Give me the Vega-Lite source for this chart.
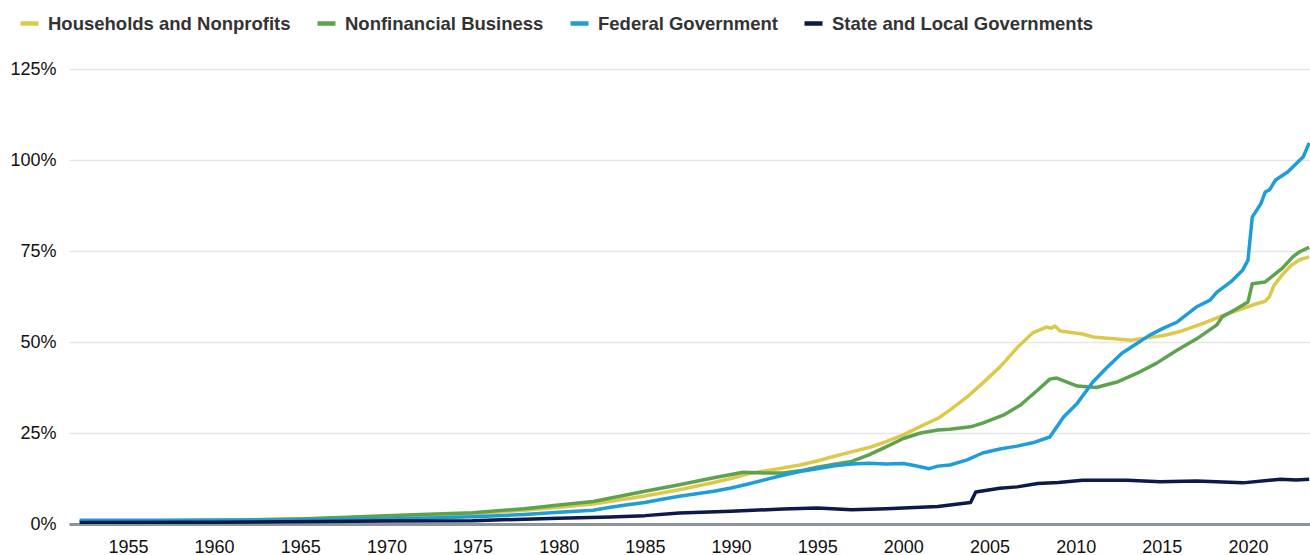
{
  "$schema": "https://vega.github.io/schema/vega-lite/v6.json",
  "width": 1241,
  "height": 455,
  "autosize": {"type": "none"},
  "padding": {"left": 69, "top": 69, "right": 0, "bottom": 31},
  "background": "white",
  "config": {
    "view": {"stroke": null},
    "font": "Liberation Sans"
  },
  "data": {
    "values": [
      {"s": "Households and Nonprofits", "t": 1952.2, "v": 0.6},
      {"s": "Households and Nonprofits", "t": 1955, "v": 0.8},
      {"s": "Households and Nonprofits", "t": 1960, "v": 1.0},
      {"s": "Households and Nonprofits", "t": 1965, "v": 1.4},
      {"s": "Households and Nonprofits", "t": 1968, "v": 1.7},
      {"s": "Households and Nonprofits", "t": 1970, "v": 2.1},
      {"s": "Households and Nonprofits", "t": 1972, "v": 2.4},
      {"s": "Households and Nonprofits", "t": 1975, "v": 2.8},
      {"s": "Households and Nonprofits", "t": 1978, "v": 3.8},
      {"s": "Households and Nonprofits", "t": 1980, "v": 4.6},
      {"s": "Households and Nonprofits", "t": 1982, "v": 5.5},
      {"s": "Households and Nonprofits", "t": 1985, "v": 7.7},
      {"s": "Households and Nonprofits", "t": 1987, "v": 9.4},
      {"s": "Households and Nonprofits", "t": 1989, "v": 11.4},
      {"s": "Households and Nonprofits", "t": 1990, "v": 12.5},
      {"s": "Households and Nonprofits", "t": 1991, "v": 13.8},
      {"s": "Households and Nonprofits", "t": 1992, "v": 14.6},
      {"s": "Households and Nonprofits", "t": 1993, "v": 15.4},
      {"s": "Households and Nonprofits", "t": 1994, "v": 16.2},
      {"s": "Households and Nonprofits", "t": 1995, "v": 17.3},
      {"s": "Households and Nonprofits", "t": 1996, "v": 18.6},
      {"s": "Households and Nonprofits", "t": 1997, "v": 19.8},
      {"s": "Households and Nonprofits", "t": 1998, "v": 21.0},
      {"s": "Households and Nonprofits", "t": 1999, "v": 22.6},
      {"s": "Households and Nonprofits", "t": 2000, "v": 24.5},
      {"s": "Households and Nonprofits", "t": 2001, "v": 26.8},
      {"s": "Households and Nonprofits", "t": 2002, "v": 29.0},
      {"s": "Households and Nonprofits", "t": 2002.7, "v": 31.3},
      {"s": "Households and Nonprofits", "t": 2003.7, "v": 34.9},
      {"s": "Households and Nonprofits", "t": 2004.6, "v": 38.7},
      {"s": "Households and Nonprofits", "t": 2005.6, "v": 43.1},
      {"s": "Households and Nonprofits", "t": 2006.6, "v": 48.4},
      {"s": "Households and Nonprofits", "t": 2007.5, "v": 52.5},
      {"s": "Households and Nonprofits", "t": 2008.3, "v": 54.1},
      {"s": "Households and Nonprofits", "t": 2008.6, "v": 53.8},
      {"s": "Households and Nonprofits", "t": 2008.8, "v": 54.4},
      {"s": "Households and Nonprofits", "t": 2009.1, "v": 53.0},
      {"s": "Households and Nonprofits", "t": 2010.4, "v": 52.2},
      {"s": "Households and Nonprofits", "t": 2011, "v": 51.4},
      {"s": "Households and Nonprofits", "t": 2012.4, "v": 50.8},
      {"s": "Households and Nonprofits", "t": 2013.2, "v": 50.5},
      {"s": "Households and Nonprofits", "t": 2013.9, "v": 51.0},
      {"s": "Households and Nonprofits", "t": 2015.1, "v": 51.8},
      {"s": "Households and Nonprofits", "t": 2016, "v": 52.8},
      {"s": "Households and Nonprofits", "t": 2017.4, "v": 55.1},
      {"s": "Households and Nonprofits", "t": 2018.6, "v": 57.4},
      {"s": "Households and Nonprofits", "t": 2019.7, "v": 59.2},
      {"s": "Households and Nonprofits", "t": 2020.5, "v": 60.5},
      {"s": "Households and Nonprofits", "t": 2021.0, "v": 61.2},
      {"s": "Households and Nonprofits", "t": 2021.25, "v": 62.5},
      {"s": "Households and Nonprofits", "t": 2021.5, "v": 65.5},
      {"s": "Households and Nonprofits", "t": 2022.0, "v": 68.5},
      {"s": "Households and Nonprofits", "t": 2022.5, "v": 71.0},
      {"s": "Households and Nonprofits", "t": 2023.0, "v": 72.6},
      {"s": "Households and Nonprofits", "t": 2023.55, "v": 73.4},

      {"s": "Nonfinancial Business", "t": 1952.2, "v": 0.7},
      {"s": "Nonfinancial Business", "t": 1955, "v": 0.8},
      {"s": "Nonfinancial Business", "t": 1960, "v": 1.0},
      {"s": "Nonfinancial Business", "t": 1965, "v": 1.4},
      {"s": "Nonfinancial Business", "t": 1970, "v": 2.3},
      {"s": "Nonfinancial Business", "t": 1972, "v": 2.6},
      {"s": "Nonfinancial Business", "t": 1975, "v": 3.1},
      {"s": "Nonfinancial Business", "t": 1978, "v": 4.2},
      {"s": "Nonfinancial Business", "t": 1980, "v": 5.2},
      {"s": "Nonfinancial Business", "t": 1982, "v": 6.2},
      {"s": "Nonfinancial Business", "t": 1985, "v": 9.0},
      {"s": "Nonfinancial Business", "t": 1987, "v": 10.8},
      {"s": "Nonfinancial Business", "t": 1989, "v": 12.7},
      {"s": "Nonfinancial Business", "t": 1990, "v": 13.6},
      {"s": "Nonfinancial Business", "t": 1990.7, "v": 14.2},
      {"s": "Nonfinancial Business", "t": 1992, "v": 14.0},
      {"s": "Nonfinancial Business", "t": 1993, "v": 14.0},
      {"s": "Nonfinancial Business", "t": 1994, "v": 14.6},
      {"s": "Nonfinancial Business", "t": 1995, "v": 15.6},
      {"s": "Nonfinancial Business", "t": 1996, "v": 16.4},
      {"s": "Nonfinancial Business", "t": 1997, "v": 17.2},
      {"s": "Nonfinancial Business", "t": 1998, "v": 19.0},
      {"s": "Nonfinancial Business", "t": 1999, "v": 21.2},
      {"s": "Nonfinancial Business", "t": 2000, "v": 23.5},
      {"s": "Nonfinancial Business", "t": 2001, "v": 25.0},
      {"s": "Nonfinancial Business", "t": 2002, "v": 25.8},
      {"s": "Nonfinancial Business", "t": 2002.7, "v": 26.0},
      {"s": "Nonfinancial Business", "t": 2003.9, "v": 26.7},
      {"s": "Nonfinancial Business", "t": 2004.6, "v": 27.7},
      {"s": "Nonfinancial Business", "t": 2005.8, "v": 29.9},
      {"s": "Nonfinancial Business", "t": 2006.8, "v": 32.7},
      {"s": "Nonfinancial Business", "t": 2007.8, "v": 36.8},
      {"s": "Nonfinancial Business", "t": 2008.5, "v": 39.8},
      {"s": "Nonfinancial Business", "t": 2008.9, "v": 40.1},
      {"s": "Nonfinancial Business", "t": 2009.5, "v": 39.0},
      {"s": "Nonfinancial Business", "t": 2010.1, "v": 37.9},
      {"s": "Nonfinancial Business", "t": 2011.2, "v": 37.5},
      {"s": "Nonfinancial Business", "t": 2012.4, "v": 39.0},
      {"s": "Nonfinancial Business", "t": 2013.6, "v": 41.5},
      {"s": "Nonfinancial Business", "t": 2014.7, "v": 44.2},
      {"s": "Nonfinancial Business", "t": 2015.9, "v": 47.8},
      {"s": "Nonfinancial Business", "t": 2017, "v": 50.8},
      {"s": "Nonfinancial Business", "t": 2018.2, "v": 54.7},
      {"s": "Nonfinancial Business", "t": 2018.5, "v": 56.9},
      {"s": "Nonfinancial Business", "t": 2019.3, "v": 59.0},
      {"s": "Nonfinancial Business", "t": 2020.0, "v": 61.0},
      {"s": "Nonfinancial Business", "t": 2020.25, "v": 66.0},
      {"s": "Nonfinancial Business", "t": 2021.0, "v": 66.5},
      {"s": "Nonfinancial Business", "t": 2022.0, "v": 70.3},
      {"s": "Nonfinancial Business", "t": 2022.6, "v": 73.4},
      {"s": "Nonfinancial Business", "t": 2023.0, "v": 74.8},
      {"s": "Nonfinancial Business", "t": 2023.55, "v": 76.0},

      {"s": "Federal Government", "t": 1952.2, "v": 1.0},
      {"s": "Federal Government", "t": 1955, "v": 1.0},
      {"s": "Federal Government", "t": 1960, "v": 1.0},
      {"s": "Federal Government", "t": 1965, "v": 1.1},
      {"s": "Federal Government", "t": 1970, "v": 1.4},
      {"s": "Federal Government", "t": 1972, "v": 1.6},
      {"s": "Federal Government", "t": 1975, "v": 2.0},
      {"s": "Federal Government", "t": 1978, "v": 2.6},
      {"s": "Federal Government", "t": 1980, "v": 3.2},
      {"s": "Federal Government", "t": 1982, "v": 3.8},
      {"s": "Federal Government", "t": 1983, "v": 4.6},
      {"s": "Federal Government", "t": 1984, "v": 5.3},
      {"s": "Federal Government", "t": 1985, "v": 5.9},
      {"s": "Federal Government", "t": 1986, "v": 6.8},
      {"s": "Federal Government", "t": 1987, "v": 7.6},
      {"s": "Federal Government", "t": 1988, "v": 8.3},
      {"s": "Federal Government", "t": 1989, "v": 9.0},
      {"s": "Federal Government", "t": 1990, "v": 9.9},
      {"s": "Federal Government", "t": 1991, "v": 11.0},
      {"s": "Federal Government", "t": 1992, "v": 12.2},
      {"s": "Federal Government", "t": 1993, "v": 13.4},
      {"s": "Federal Government", "t": 1994, "v": 14.4},
      {"s": "Federal Government", "t": 1995, "v": 15.2},
      {"s": "Federal Government", "t": 1996, "v": 16.0},
      {"s": "Federal Government", "t": 1997, "v": 16.5},
      {"s": "Federal Government", "t": 1998, "v": 16.7},
      {"s": "Federal Government", "t": 1999, "v": 16.5},
      {"s": "Federal Government", "t": 2000, "v": 16.6},
      {"s": "Federal Government", "t": 2000.7, "v": 16.0},
      {"s": "Federal Government", "t": 2001.5, "v": 15.2},
      {"s": "Federal Government", "t": 2002, "v": 15.9},
      {"s": "Federal Government", "t": 2002.7, "v": 16.2},
      {"s": "Federal Government", "t": 2003.7, "v": 17.6},
      {"s": "Federal Government", "t": 2004.6, "v": 19.5},
      {"s": "Federal Government", "t": 2005.6, "v": 20.6},
      {"s": "Federal Government", "t": 2006.6, "v": 21.4},
      {"s": "Federal Government", "t": 2007.5, "v": 22.3},
      {"s": "Federal Government", "t": 2008.5, "v": 23.9},
      {"s": "Federal Government", "t": 2009.3, "v": 29.4},
      {"s": "Federal Government", "t": 2010.1, "v": 33.2},
      {"s": "Federal Government", "t": 2011, "v": 39.0},
      {"s": "Federal Government", "t": 2011.8, "v": 42.9},
      {"s": "Federal Government", "t": 2012.7, "v": 47.0},
      {"s": "Federal Government", "t": 2013.6, "v": 49.7},
      {"s": "Federal Government", "t": 2014.3, "v": 51.9},
      {"s": "Federal Government", "t": 2015.1, "v": 53.8},
      {"s": "Federal Government", "t": 2015.9, "v": 55.5},
      {"s": "Federal Government", "t": 2017, "v": 59.6},
      {"s": "Federal Government", "t": 2017.8, "v": 61.5},
      {"s": "Federal Government", "t": 2018.2, "v": 63.7},
      {"s": "Federal Government", "t": 2019, "v": 66.5},
      {"s": "Federal Government", "t": 2019.7, "v": 69.8},
      {"s": "Federal Government", "t": 2020.0, "v": 72.5},
      {"s": "Federal Government", "t": 2020.25, "v": 84.3},
      {"s": "Federal Government", "t": 2020.75, "v": 88.0},
      {"s": "Federal Government", "t": 2021.0, "v": 91.2},
      {"s": "Federal Government", "t": 2021.25, "v": 91.8},
      {"s": "Federal Government", "t": 2021.6, "v": 94.5},
      {"s": "Federal Government", "t": 2022.3, "v": 96.7},
      {"s": "Federal Government", "t": 2023.2, "v": 100.8},
      {"s": "Federal Government", "t": 2023.4, "v": 103.0},
      {"s": "Federal Government", "t": 2023.55, "v": 104.7},

      {"s": "State and Local Governments", "t": 1952.2, "v": 0.4},
      {"s": "State and Local Governments", "t": 1960, "v": 0.5},
      {"s": "State and Local Governments", "t": 1970, "v": 0.8},
      {"s": "State and Local Governments", "t": 1975, "v": 0.9},
      {"s": "State and Local Governments", "t": 1980, "v": 1.6},
      {"s": "State and Local Governments", "t": 1983, "v": 1.9},
      {"s": "State and Local Governments", "t": 1985, "v": 2.3},
      {"s": "State and Local Governments", "t": 1987, "v": 3.0},
      {"s": "State and Local Governments", "t": 1990, "v": 3.5},
      {"s": "State and Local Governments", "t": 1993, "v": 4.1},
      {"s": "State and Local Governments", "t": 1995, "v": 4.4},
      {"s": "State and Local Governments", "t": 1997, "v": 3.9},
      {"s": "State and Local Governments", "t": 1999, "v": 4.2},
      {"s": "State and Local Governments", "t": 2000, "v": 4.4},
      {"s": "State and Local Governments", "t": 2002, "v": 4.8},
      {"s": "State and Local Governments", "t": 2003.9, "v": 5.9},
      {"s": "State and Local Governments", "t": 2004.2, "v": 8.8},
      {"s": "State and Local Governments", "t": 2005.6, "v": 9.8},
      {"s": "State and Local Governments", "t": 2006.6, "v": 10.2},
      {"s": "State and Local Governments", "t": 2007.8, "v": 11.1},
      {"s": "State and Local Governments", "t": 2009, "v": 11.4},
      {"s": "State and Local Governments", "t": 2010.4, "v": 12.0},
      {"s": "State and Local Governments", "t": 2013, "v": 12.0},
      {"s": "State and Local Governments", "t": 2014.9, "v": 11.6},
      {"s": "State and Local Governments", "t": 2017, "v": 11.8},
      {"s": "State and Local Governments", "t": 2019.7, "v": 11.3},
      {"s": "State and Local Governments", "t": 2021.9, "v": 12.3},
      {"s": "State and Local Governments", "t": 2022.8, "v": 12.1},
      {"s": "State and Local Governments", "t": 2023.55, "v": 12.3}
    ]
  },
  "mark": {"type": "line", "strokeWidth": 3.5, "strokeJoin": "round", "clip": true},
  "encoding": {
    "x": {
      "field": "t",
      "type": "quantitative",
      "scale": {"domain": [1951.58, 2023.6], "nice": false, "zero": false},
      "axis": {
        "title": null,
        "values": [1955, 1960, 1965, 1970, 1975, 1980, 1985, 1990, 1995, 2000, 2005, 2010, 2015, 2020],
        "format": "d",
        "grid": false,
        "ticks": false,
        "domain": true,
        "domainColor": "#8d959c",
        "domainWidth": 3,
        "labelFontSize": 18,
        "labelColor": "#111111",
        "labelPadding": 14,
        "labelFlush": false
      }
    },
    "y": {
      "field": "v",
      "type": "quantitative",
      "scale": {"domain": [0, 125], "nice": false},
      "axis": {
        "title": null,
        "values": [0, 25, 50, 75, 100, 125],
        "labelExpr": "datum.value + '%'",
        "grid": true,
        "gridColor": "#e6e6e6",
        "gridWidth": 1.5,
        "ticks": false,
        "domain": false,
        "labelFontSize": 18,
        "labelColor": "#111111",
        "labelPadding": 13
      }
    },
    "color": {
      "field": "s",
      "type": "nominal",
      "scale": {
        "domain": ["Households and Nonprofits", "Nonfinancial Business", "Federal Government", "State and Local Governments"],
        "range": ["#dcc94c", "#5ca24f", "#1f9dd9", "#0c1a4b"]
      },
      "legend": {
        "title": null,
        "orient": "none",
        "direction": "horizontal",
        "legendX": -51,
        "legendY": -57,
        "padding": 0,
        "symbolType": "stroke",
        "symbolSize": 324,
        "symbolStrokeWidth": 4.5,
        "labelFontSize": 18.5,
        "labelFontWeight": "bold",
        "labelColor": "#333333",
        "labelOffset": 7,
        "columnPadding": 17,
        "labelLimit": 400
      }
    }
  }
}
